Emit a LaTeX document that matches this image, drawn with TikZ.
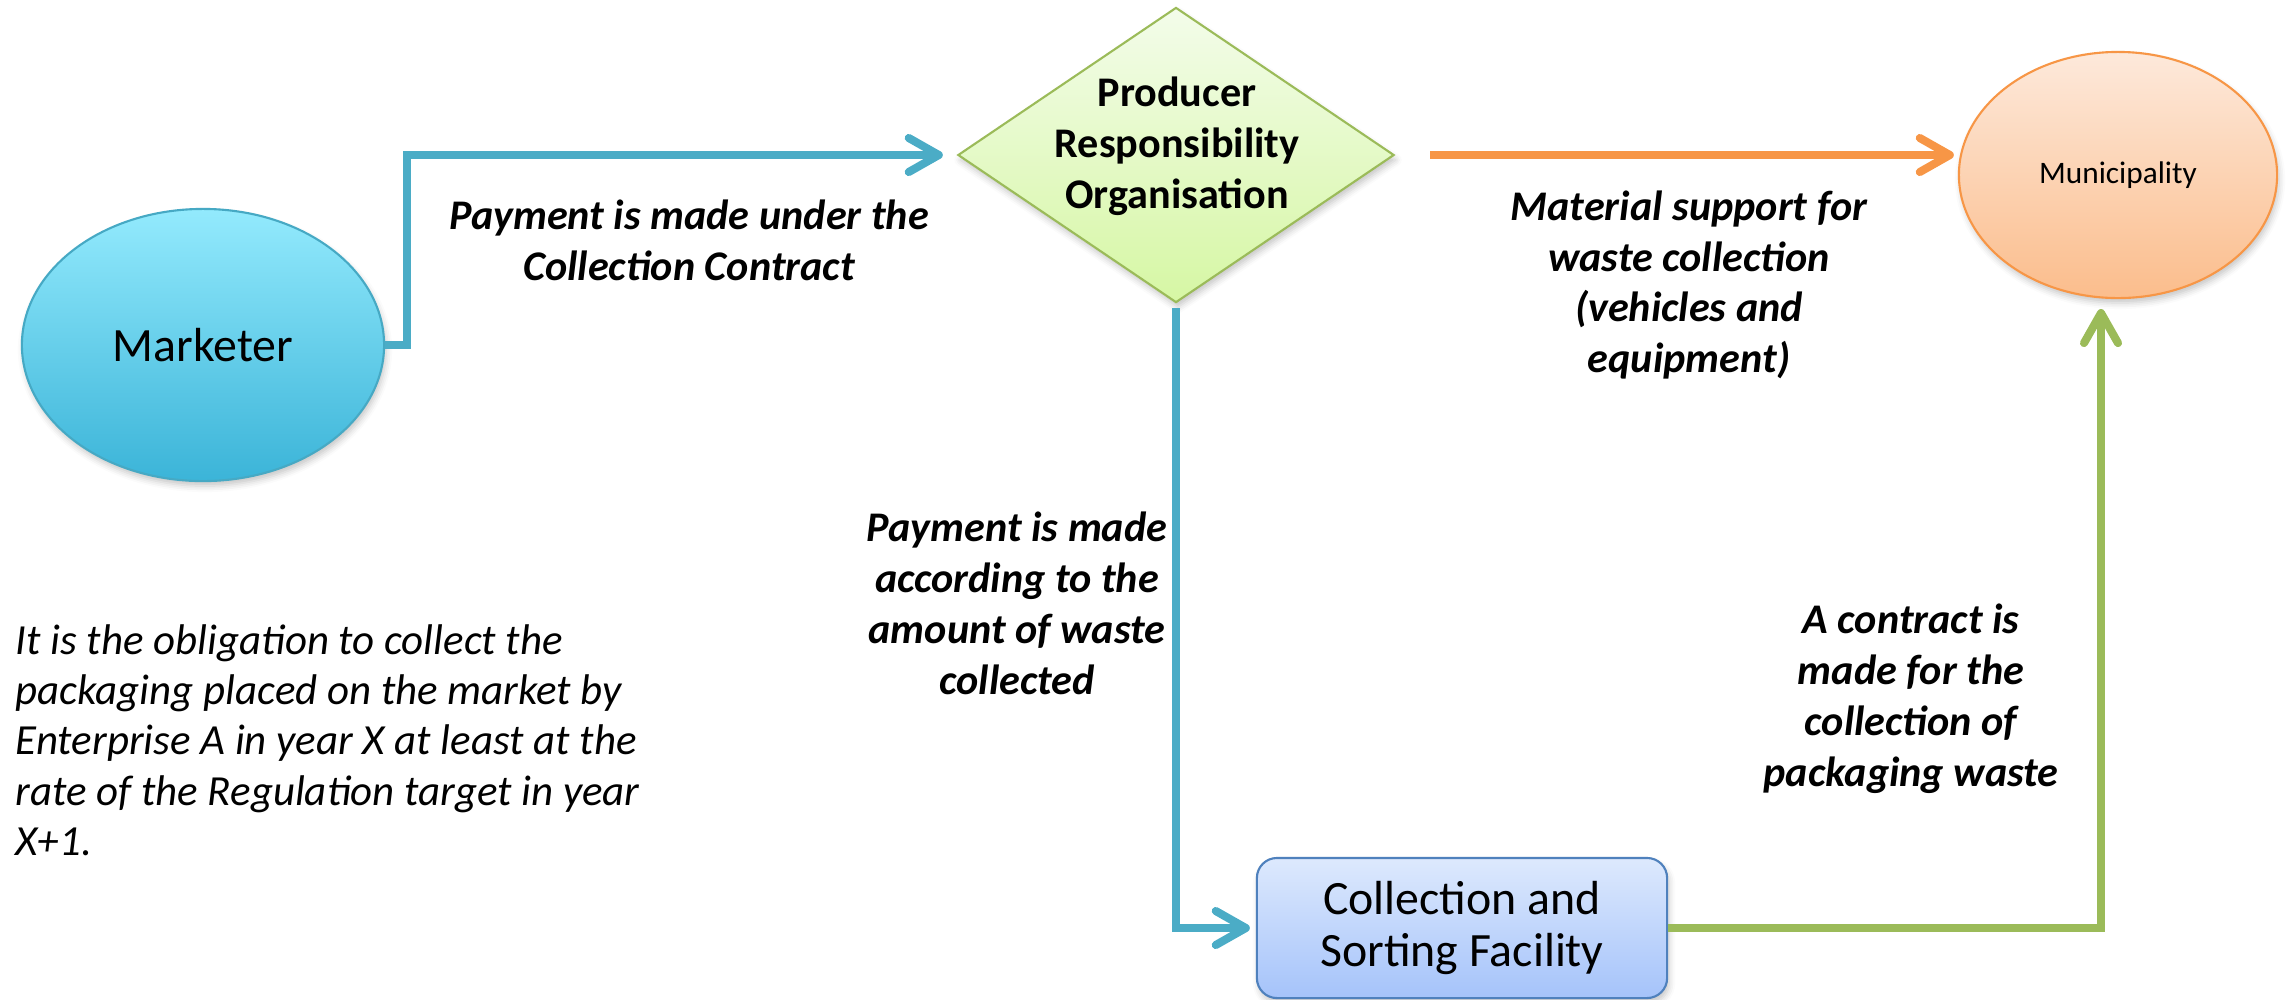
\documentclass[tikz,border=0pt]{standalone}
\usepackage{fontspec}
\setmainfont{Carlito}
\usepackage{tikz}
\usetikzlibrary{shapes.geometric,arrows.meta,shadows.blur}

\definecolor{mktTop}{HTML}{93EAFD}
\definecolor{mktBot}{HTML}{3BB4D8}
\definecolor{mktLine}{HTML}{46A9C4}
\definecolor{proTop}{HTML}{F3FCEA}
\definecolor{proBot}{HTML}{D6F7A4}
\definecolor{proLine}{HTML}{9BBB59}
\definecolor{munTop}{HTML}{FDE9DB}
\definecolor{munBot}{HTML}{FBBD8C}
\definecolor{munLine}{HTML}{F79646}
\definecolor{facTop}{HTML}{DDE9FD}
\definecolor{facBot}{HTML}{A5C3FA}
\definecolor{facLine}{HTML}{4F81BD}
\definecolor{blueFlow}{HTML}{4BACC6}
\definecolor{orangeFlow}{HTML}{F79646}
\definecolor{greenFlow}{HTML}{9BBB59}

\begin{document}
\begin{tikzpicture}[x=0.01cm, y=-0.01cm, every node/.style={align=center, inner sep=0pt}]
	\tikzset{soft/.style={line width=0.6pt, blur shadow={shadow xshift=0.02cm, shadow yshift=-0.05cm, shadow opacity=22, shadow blur radius=0.06cm}}}
	\tikzset{flow/.style={line width=2.3pt, -{Straight Barb[round, length=0.3cm, width=0.34cm]}}}
	\tikzset{note/.style={font=\fontsize{12}{14.5}\selectfont\bfseries\itshape}}
	\useasboundingbox (0,0) rectangle (2287,999);
	\node[ellipse, soft, draw=mktLine, top color=mktTop, bottom color=mktBot, minimum width=3.62cm, minimum height=2.72cm, font=\fontsize{13.6}{16}\selectfont] (mkt) at (203,345) {Marketer};
	\node[diamond, soft, draw=proLine, top color=proTop, bottom color=proBot, minimum width=4.36cm, minimum height=2.95cm] (pro) at (1176,155) {};
	\node[font=\fontsize{12}{14.5}\selectfont\bfseries] (protxt) at (1177,146) {Producer\\Responsibility\\Organisation};
	\node[ellipse, soft, draw=munLine, top color=munTop, bottom color=munBot, minimum width=3.18cm, minimum height=2.46cm, font=\fontsize{8.9}{11}\selectfont] (mun) at (2118,175) {Municipality};
	\node[rectangle, rounded corners=0.2cm, soft, draw=facLine, top color=facTop, bottom color=facBot, minimum width=4.1cm, minimum height=1.4cm, font=\fontsize{13.6}{15}\selectfont] (fac) at (1462,928) {Collection and\\Sorting Facility};
	\coordinate (bend) at (407,250);
	\coordinate (gtip) at (2101,309);
	\draw[flow, blueFlow, shorten >=0.14cm] (mkt.east) -| (bend) |- (pro.west);
	\draw[flow, blueFlow, shorten <=0.04cm, shorten >=0.06cm] (pro.south) |- (fac.west);
	\draw[flow, orangeFlow, shorten <=0.35cm, shorten >=0.04cm] (pro.east) -- (pro.east -| mun.west);
	\draw[flow, greenFlow] (fac.east) -| (gtip);
	\node[note] (l1) at (689,240) {Payment is made under the\\Collection Contract};
	\node[note] (l2) at (1689,285) {Material support for\\waste collection\\(vehicles and\\equipment)};
	\node[note] (l3) at (1017,603) {Payment is made\\according to the\\amount of waste\\collected};
	\node[note] (l4) at (1911,699) {A contract is\\made for the\\collection of\\packaging waste};
	\node[anchor=west, align=left, font=\fontsize{12.2}{14.3}\selectfont\itshape] (obl) at (15,740) {It is the obligation to collect the\\packaging placed on the market by\\Enterprise A in year X at least at the\\rate of the Regulation target in year\\X+1.};
\end{tikzpicture}
\end{document}
